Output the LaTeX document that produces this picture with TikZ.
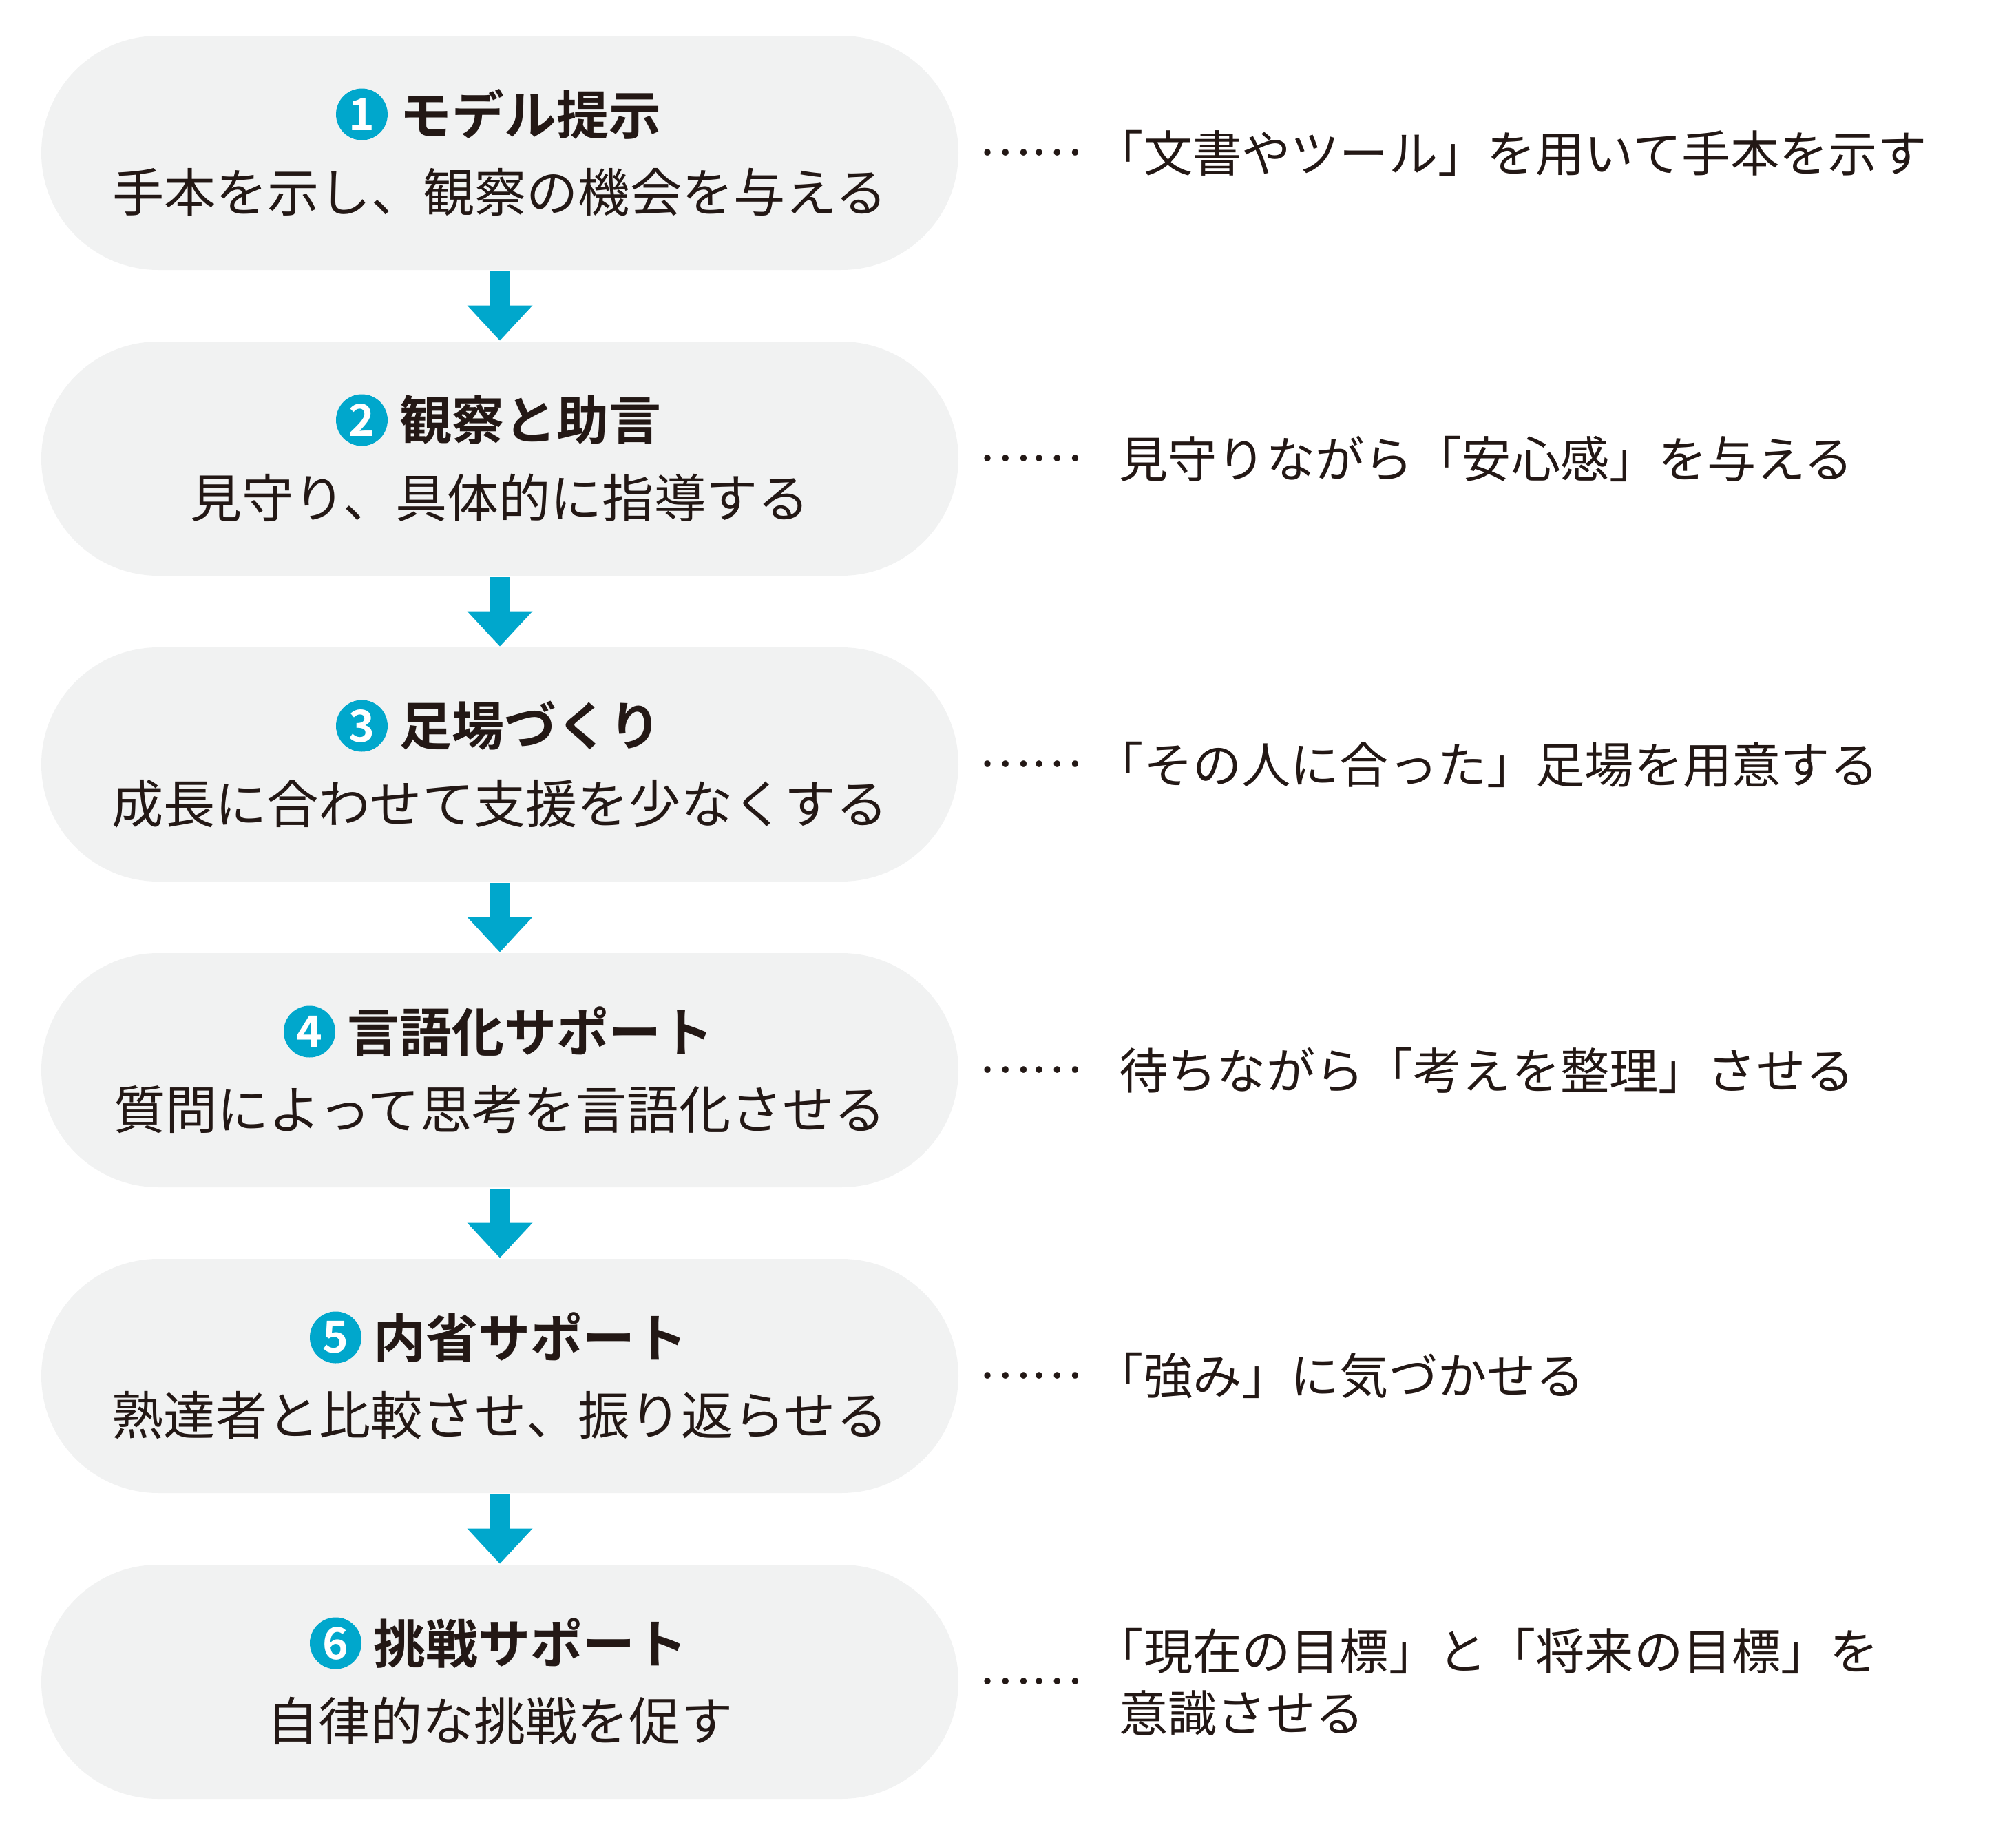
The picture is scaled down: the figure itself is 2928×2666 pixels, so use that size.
\documentclass[tikz,border=0pt]{standalone}
\usepackage{fontspec}
\newfontfamily\jp{Noto Sans CJK JP}[BoldFont={Noto Sans CJK JP Bold}]
\usetikzlibrary{arrows.meta,positioning}
\definecolor{stepgray}{RGB}{241,242,242}
\definecolor{stepcyan}{RGB}{0,167,204}
\definecolor{inkblack}{RGB}{35,24,21}
\newcommand\openq{\hspace*{-.5em}「}
\tikzset{every picture/.style={line width=0.75pt},
  stepbox/.style={rectangle, rounded corners=42.5pt, minimum width=333pt, minimum height=85pt, fill=stepgray, inner sep=0pt},
  steptitle/.style={inner sep=0pt, text=inkblack, font=\jp\bfseries\fontsize{19pt}{22pt}\selectfont},
  stepsub/.style={inner sep=0pt, text=inkblack, font=\jp\fontsize{18.8pt}{22pt}\selectfont},
  numdot/.style={circle, fill=stepcyan, minimum size=18.75pt, inner sep=0pt, text=white, font=\jp\bfseries\fontsize{16pt}{16pt}\selectfont},
  stepnote/.style={inner sep=0pt, anchor=west, align=left, text=inkblack, font=\jp\fontsize{17.8pt}{22.5pt}\selectfont},
  leaderdots/.style={inner sep=0pt, text=inkblack, font=\jp\fontsize{17.5pt}{22.5pt}\selectfont},
  flow/.style={stepcyan, line width=7.25pt, -{Triangle[width=23.75pt,length=12.75pt,line width=0pt]}}
}

\begin{document}
\begin{tikzpicture}[x=0.25pt,y=0.25pt,yscale=-1,xscale=1]
\useasboundingbox (0,0) rectangle (2928,2666);

%Shape: Step boxes
\node[stepbox] (b1) at (726,222) {};
\node[stepbox] (b2) at (726,666) {};
\node[stepbox] (b3) at (726,1110) {};
\node[stepbox] (b4) at (726,1554) {};
\node[stepbox] (b5) at (726,1998) {};
\node[stepbox] (b6) at (726,2442) {};

%Arrows between boxes
\draw[flow] (b1.south) -- (b2.north);
\draw[flow] (b2.south) -- (b3.north);
\draw[flow] (b3.south) -- (b4.north);
\draw[flow] (b4.south) -- (b5.north);
\draw[flow] (b5.south) -- (b6.north);

% Titles
\node[steptitle] (t1) at (770,166) {モデル提示};
\node[numdot, left=3.5pt of t1] (n1) {1};
\node[steptitle] (t2) at (770,610) {観察と助言};
\node[numdot, left=3.5pt of t2] (n2) {2};
\node[steptitle] (t3) at (770,1054) {足場づくり};
\node[numdot, left=3.5pt of t3] (n3) {3};
\node[steptitle] (t4) at (770,1498) {言語化サポート};
\node[numdot, left=3.5pt of t4] (n4) {4};
\node[steptitle] (t5) at (770,1942) {内省サポート};
\node[numdot, left=3.5pt of t5] (n5) {5};
\node[steptitle] (t6) at (770,2386) {挑戦サポート};
\node[numdot, left=3.5pt of t6] (n6) {6};

% Subtitles
\node[stepsub] (s1) at (726,279) {手本を示し、観察の機会を与える};
\node[stepsub] (s2) at (726,723) {見守り、具体的に指導する};
\node[stepsub] (s3) at (726,1167) {成長に合わせて支援を少なくする};
\node[stepsub] (s4) at (726,1611) {質問によって思考を言語化させる};
\node[stepsub] (s5) at (726,2055) {熟達者と比較させ、振り返らせる};
\node[stepsub] (s6) at (726,2499) {自律的な挑戦を促す};

% Leader dots
\node[leaderdots] (d1) at (1497,222) {……};
\node[leaderdots] (d2) at (1497,666) {……};
\node[leaderdots] (d3) at (1497,1110) {……};
\node[leaderdots] (d4) at (1497,1554) {……};
\node[leaderdots] (d5) at (1497,1998) {……};
\node[leaderdots] (d6) at (1497,2442) {……};

% Notes
\node[stepnote] (r1) at (1624,222) {\openq 文書やツール」を用いて手本を示す};
\node[stepnote] (r2) at (1624,666) {見守りながら「安心感」を与える};
\node[stepnote] (r3) at (1624,1110) {\openq その人に合った」足場を用意する};
\node[stepnote] (r4) at (1624,1554) {待ちながら「考えを整理」させる};
\node[stepnote] (r5) at (1624,1998) {\openq 強み」に気づかせる};
\node[stepnote] (r6) at (1624,2442) {\openq 現在の目標」と「将来の目標」を\\意識させる};

\end{tikzpicture}
\end{document}
